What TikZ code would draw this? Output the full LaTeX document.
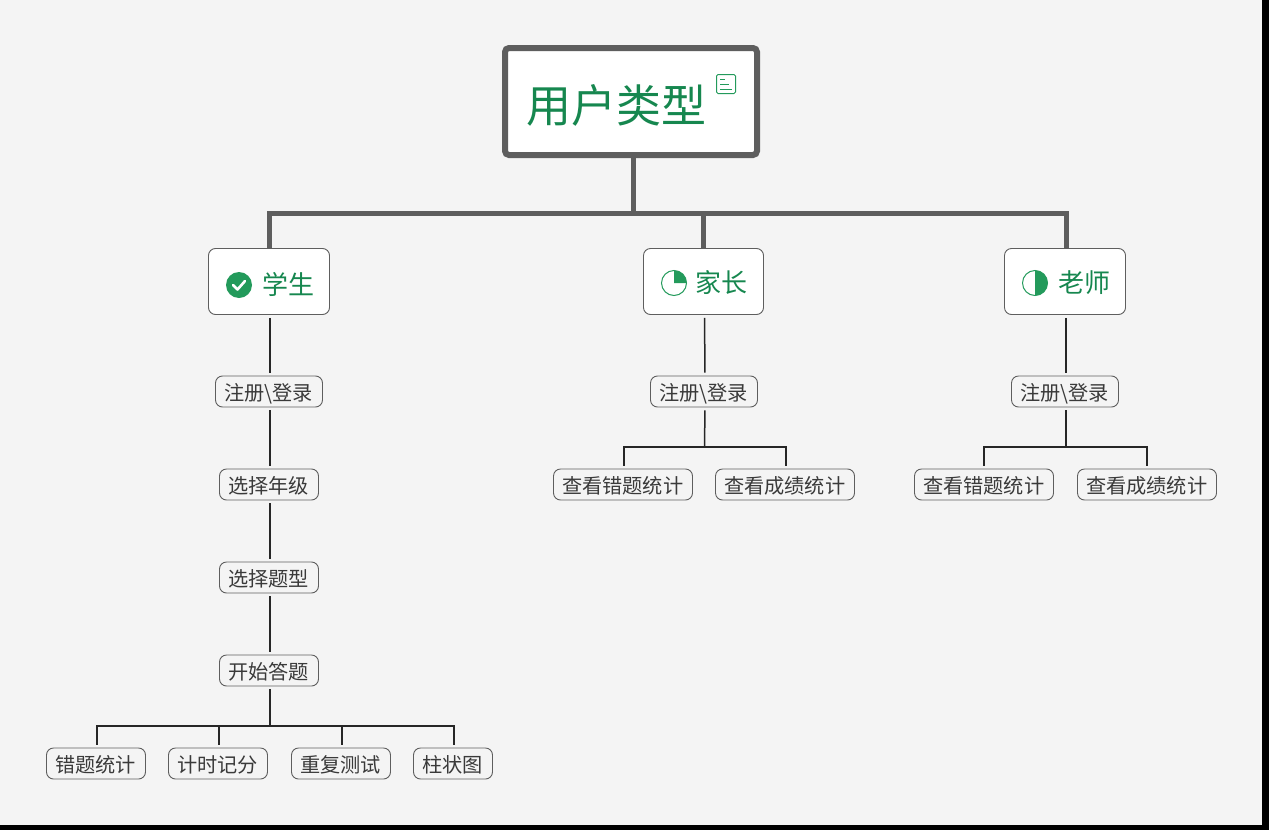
\documentclass[tikz,border=0pt]{standalone}
\usepackage{fontspec}
\setmainfont{Noto Sans CJK SC}
\definecolor{pagebg}{HTML}{F4F4F4}
\definecolor{rootgreen}{HTML}{16874F}
\definecolor{icongreen}{HTML}{239A5B}
\definecolor{edgegray}{HTML}{5E5E5E}
\definecolor{txtgray}{HTML}{3A3A3A}
\newcommand{\lowertx}[2]{\raisebox{\dimexpr-0.38em-#1\relax}[0pt][0pt]{#2}}
\newcommand{\subtx}[1]{\hspace*{-0.6pt}\lowertx{1pt}{#1}}
\tikzset{
  rootbox/.style={draw=edgegray,line width=6pt,rounded corners=4pt,fill=white,minimum width=252pt,minimum height=107pt,inner sep=0pt,text=rootgreen,font=\fontsize{45}{50}\selectfont},
  mainbox/.style={draw=edgegray,line width=0.9pt,rounded corners=7pt,fill=white,minimum width=121pt,minimum height=66pt,inner sep=0pt,text=rootgreen,font=\fontsize{26}{30}\selectfont},
  subbox/.style={draw=edgegray,line width=0.9pt,rounded corners=7pt,fill=pagebg,minimum height=31pt,inner sep=0pt,text=txtgray,font=\fontsize{20.2}{24}\selectfont},
  w4/.style={subbox,minimum width=99pt},
  w3/.style={subbox,minimum width=79pt},
  w5/.style={subbox,minimum width=107pt},
  w6/.style={subbox,minimum width=139pt},
  thickline/.style={draw=edgegray,line width=5pt},
  thinline/.style={draw=black!85,line width=1.5pt},
}
\begin{document}
\begin{tikzpicture}[x=1pt,y=-1pt]
\useasboundingbox (0,0) rectangle (1269,830);
\fill[black] (0,0) rectangle (1269,830);
\fill[pagebg] (0,0) rectangle (1262,825);

\coordinate (busroot) at (633,213);
\coordinate (busstu) at (270,726);
\coordinate (buspar) at (704.5,447);
\coordinate (bustea) at (1066,447);

\node[rootbox] (root) at (631,101.5) {\lowertx{3.5pt}{用户类型}\hspace*{29pt}};
\node[mainbox] (stu) at (269,281.5) {\hspace*{39pt}\lowertx{3.5pt}{学生}};
\node[mainbox,minimum width=120pt] (par) at (703.5,281.5) {\hspace*{36pt}\lowertx{1.5pt}{家长}};
\node[mainbox] (tea) at (1065,281.5) {\hspace*{39pt}\lowertx{1.5pt}{老师}};

\node[w5] (s1) at (269,391.5) {\subtx{注册\textbackslash 登录}};
\node[w4] (s2) at (269,484.5) {\subtx{选择年级}};
\node[w4] (s3) at (269,577.5) {\subtx{选择题型}};
\node[w4] (s4) at (269,670.5) {\subtx{开始答题}};
\node[w4] (s5) at (96,763.5) {\subtx{错题统计}};
\node[w4] (s6) at (218,763.5) {\subtx{计时记分}};
\node[w4] (s7) at (341,763.5) {\subtx{重复测试}};
\node[w3] (s8) at (453,763.5) {\subtx{柱状图}};

\node[w5] (p1) at (704,391.5) {\subtx{注册\textbackslash 登录}};
\node[w6] (p2) at (623,484.5) {\subtx{查看错题统计}};
\node[w6] (p3) at (785,484.5) {\subtx{查看成绩统计}};

\node[w5] (t1) at (1065,391.5) {\subtx{注册\textbackslash 登录}};
\node[w6] (t2) at (984,484.5) {\subtx{查看错题统计}};
\node[w6] (t3) at (1147,484.5) {\subtx{查看成绩统计}};

\draw[thickline] ([xshift=2pt]root.south) -- (busroot);
\draw[thickline] (busroot) -| (stu.north);
\draw[thickline] (busroot) -| ([xshift=1pt]tea.north);
\draw[thickline] (busroot -| par.north) -- (par.north);

\tikzset{gapped/.style={thinline,shorten <=3pt,shorten >=3pt}}
\draw[gapped] ([xshift=1pt]stu.south) -- ([xshift=1pt]s1.north);
\draw[gapped] ([xshift=1pt]s1.south) -- ([xshift=1pt]s2.north);
\draw[gapped] ([xshift=1pt]s2.south) -- ([xshift=1pt]s3.north);
\draw[gapped] ([xshift=1pt]s3.south) -- ([xshift=1pt]s4.north);
\draw[thinline,line width=2.2pt,shorten <=3pt] ([xshift=1pt]s4.south) -- (busstu);
\draw[thinline,shorten >=3pt] (busstu) -| ([xshift=1pt]s5.north);
\draw[thinline,shorten >=3pt] (busstu) -| ([xshift=1pt]s6.north);
\draw[thinline,shorten >=3pt] (busstu) -| ([xshift=1pt]s7.north);
\draw[thinline,shorten >=3pt] (busstu) -| ([xshift=1pt]s8.north);

\draw[gapped] ([xshift=1pt]par.south) -- ([xshift=1pt]p1.north);
\draw[thinline,shorten <=3pt] ([xshift=1pt]p1.south) -- (buspar);
\draw[thinline,shorten >=3pt] (buspar) -| ([xshift=1pt]p2.north);
\draw[thinline,shorten >=3pt] (buspar) -| ([xshift=1pt]p3.north);

\draw[gapped] ([xshift=1pt]tea.south) -- ([xshift=1pt]t1.north);
\draw[thinline,shorten <=3pt] ([xshift=1pt]t1.south) -- (bustea);
\draw[thinline,shorten >=3pt] (bustea) -| (t2.north);
\draw[thinline,shorten >=3pt] (bustea) -| (t3.north);

% note icon
\draw[draw=icongreen,line width=1pt,rounded corners=1.5pt,fill=white] (716.5,74.5) rectangle (735.5,93.5);
\draw[icongreen,line width=1.2pt] (720,79.5) -- (725,79.5) (720,84.5) -- (729,84.5) (720,89.5) -- (732,89.5);

% check icon
\fill[icongreen] (239,285) circle (13);
\draw[white,line width=2.6pt,line cap=round,line join=round] (233,285) -- (237.5,289.5) -- (245,281);

% quarter icon
\draw[icongreen,line width=1pt] (674,283) circle (12.5);
\fill[icongreen] (674,283) -- (674,270.5) arc[start angle=90,end angle=0,x radius=12.5,y radius=-12.5] -- cycle;

% half icon
\draw[icongreen,line width=1pt] (1035,283) circle (12.5);
\fill[icongreen] (1035,270.5) arc[start angle=90,end angle=-90,x radius=12.5,y radius=-12.5] -- cycle;
\end{tikzpicture}
\end{document}
